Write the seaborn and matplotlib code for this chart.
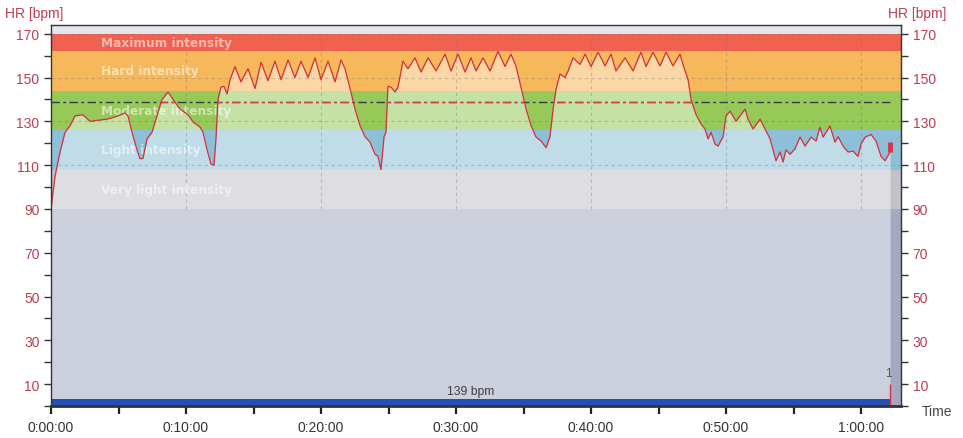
import matplotlib
matplotlib.use("Agg")
import matplotlib.pyplot as plt
import seaborn as sns
import pandas as pd
from matplotlib.ticker import MultipleLocator, FixedLocator, FuncFormatter

# heart rate trace (elapsed minutes, bpm)
minutes = [
    0.00, 0.30, 0.67, 1.04, 1.41, 1.78, 2.37, 2.89, 3.63, 4.15, 4.74, 5.48, 5.70,
    6.00, 6.37, 6.59, 6.81, 7.11, 7.48, 7.85, 8.22, 8.67, 9.04, 9.56, 10.15, 10.52,
    11.04, 11.26, 11.56, 11.85, 12.07, 12.22, 12.37, 12.59, 12.81, 13.04, 13.26,
    13.63, 14.07, 14.59, 15.11, 15.56, 16.07, 16.59, 17.04, 17.56, 18.07, 18.52,
    19.04, 19.56, 20.00, 20.52, 21.04, 21.48, 21.78, 22.15, 22.52, 22.89, 23.26,
    23.63, 24.00, 24.22, 24.44, 24.67, 24.81, 24.96, 25.19, 25.48, 25.70, 26.07,
    26.44, 26.96, 27.41, 27.93, 28.52, 29.19, 29.63, 30.15, 30.67, 31.11, 31.48,
    32.00, 32.52, 33.11, 33.63, 34.07, 34.44, 34.81, 35.19, 35.56, 35.93, 36.30,
    36.67, 36.96, 37.19, 37.41, 37.70, 38.07, 38.30, 38.67, 39.19, 39.56, 40.00,
    40.52, 41.04, 41.48, 41.85, 42.52, 43.11, 43.70, 44.07, 44.59, 45.11, 45.56,
    46.07, 46.59, 46.81, 47.19, 47.41, 47.78, 48.15, 48.44, 48.67, 48.89, 49.19,
    49.41, 49.78, 50.00, 50.30, 50.74, 51.41, 51.63, 52.00, 52.52, 52.89, 53.26,
    53.70, 54.00, 54.22, 54.44, 54.74, 55.11, 55.48, 55.85, 56.30, 56.67, 56.96,
    57.19, 57.70, 58.07, 58.30, 58.67, 59.04, 59.41, 59.78, 60.00, 60.30, 60.74,
    61.11, 61.48, 61.78, 62.15,
]
hr = [
    90, 105, 116, 125, 128, 132.5, 133, 130, 130.6, 131, 132, 133.8, 132.5,
    125, 117, 113, 113, 122, 125, 132.5, 140, 143.4, 140, 135.6, 133, 129.7,
    127.4, 125, 117, 110.5, 110, 122, 140, 145.6, 146, 142.5, 149,
    155, 148, 154, 145, 157, 148.6, 157.5, 149, 158, 150, 157.5,
    150, 159, 149, 157.5, 148, 158, 154, 145, 135.6, 128, 123,
    120.5, 115, 114, 108, 123, 125, 146, 145.6, 143.4, 145.6, 157.5,
    154, 159, 152.5, 159, 153, 160.7, 153, 160.7, 152.5, 159, 153,
    159, 153, 162, 155, 160.7, 155.3, 145.6, 135.6, 128, 122.8, 121,
    118, 123, 135.6, 144.7, 151.6, 150, 153, 159, 156, 160.7, 155,
    161.6, 155.3, 160.7, 153, 159, 153, 161.6, 155, 161.6, 155.3, 161.6,
    155.3, 160.7, 156, 149, 140, 133, 128.8, 126.5, 122, 125, 119.6,
    118.7, 123, 132.4, 134.7, 130, 135.6, 131, 126.5, 131, 126.5, 122,
    112, 116, 111.4, 117, 115, 117.4, 122.8, 118.7, 122.8, 121, 127.4,
    122.8, 127.9, 120.5, 123, 118.7, 116, 116.4, 114, 119.6, 122.8, 124,
    121, 114, 112, 116,
]

zone_names = ["Very light intensity", "Light intensity", "Moderate intensity",
              "Hard intensity", "Maximum intensity"]
zone_low = [90, 108, 126, 144, 162]
zone_high = [108, 126, 144, 162, 170]
zone_colors = ["#c3c2ca", "#8dc0d6", "#96c958", "#f6b85a", "#f06250"]
base_color = "#a3a9c0"

avg_hr = 139
last_marker = [116, 120.5]
lap_label = "1"
x_grid = [10, 20, 30, 40, 50, 60]
y_grid = [110, 130, 150, 170]

sns.set_style("white")
plt.rcParams["font.family"] = ["Liberation Sans", "DejaVu Sans"]

df = pd.DataFrame({"Minutes": minutes, "HR": hr})
t_end = df["Minutes"].iloc[-1]

fig = plt.figure(figsize=(9.63, 4.39), dpi=100)
ax = fig.add_axes([51 / 963, 32 / 439, 850 / 963, 381 / 439])
ax.set_facecolor("#e3e6ef")
ax.set_xlim(0, 62.96)
ax.set_ylim(0, 174)

# zone bands (full colour), then a white veil under the curve
ax.axhspan(0, 90, color=base_color, lw=0, zorder=0.5)
for lo, hi, c in zip(zone_low, zone_high, zone_colors):
    ax.axhspan(lo, hi, color=c, lw=0, zorder=0.5)
fb = ax.fill_between(df["Minutes"], 0, df["HR"], color="white", alpha=0.45,
                     lw=0, zorder=1)

# grid only over the zone area
ax.vlines(x_grid, 90, 170, colors="#70707e", alpha=0.35, lw=0.8,
          linestyles=(0, (3, 3)), zorder=1.5)
ax.hlines(y_grid, 0, 62.96, colors="#70707e", alpha=0.35, lw=0.8,
          linestyles=(0, (3, 3)), zorder=1.5)

for name, lo, hi in zip(zone_names, zone_low, zone_high):
    ax.text(3.7, (lo + hi) / 2, name, family="DejaVu Sans", weight="bold",
            fontsize=8.7, color="white", alpha=0.55, va="center", ha="left",
            zorder=1.8)

# average line: dark over the bands, red inside the veil
dash = (0, (6, 2.5, 2, 2.5))
ax.hlines(avg_hr, 0, t_end, colors="#3a3a46", linestyles=dash, lw=1, zorder=1.6)
red = ax.hlines(avg_hr, 0, t_end, colors="#d8404c", linestyles=dash, lw=1,
                zorder=1.7)
red.set_clip_path(fb.get_paths()[0], ax.transData)

sns.lineplot(data=df, x="Minutes", y="HR", ax=ax, color="#d2303f", lw=0.9,
             zorder=2.2)
ax.plot([t_end, t_end], last_marker, color="#d8344a", lw=3.5,
        solid_capstyle="butt", zorder=2.3)

# average bar along the bottom
ax.fill_between([0, t_end], 0, 3.3, color="#2251b5", lw=0, zorder=2)
ax.text(t_end / 2, 6.8, f"{avg_hr} bpm", ha="center", va="center",
        fontsize=8.7, color="#404040", zorder=3)

# lap marker
ax.vlines(t_end, 0, 10, colors="#e03040", lw=1, zorder=2.4)
ax.text(t_end - 0.1, 15, lap_label, ha="center", va="center", fontsize=8.5,
        color="#555555", zorder=3)

ax.set_xlabel("")
ax.set_ylabel("")
ax.xaxis.set_major_locator(MultipleLocator(10))
ax.xaxis.set_minor_locator(MultipleLocator(5))
ax.xaxis.set_major_formatter(
    FuncFormatter(lambda v, p: f"{int(v // 60)}:{int(v % 60):02d}:00"))
ax.yaxis.set_major_locator(FixedLocator(list(range(10, 171, 20))))
ax.yaxis.set_minor_locator(FixedLocator(list(range(0, 171, 20))))

ax.tick_params(axis="y", which="both", direction="out", length=5, width=1,
               color="#333333", left=True, right=True, labelleft=True,
               labelright=True, labelcolor="#be3c50", labelsize=10, pad=3.3)
ax.tick_params(axis="x", which="both", direction="out", length=6, width=1.6,
               color="#222222", bottom=True, labelcolor="#333333",
               labelsize=10, pad=4)

for side, sp in ax.spines.items():
    sp.set_visible(True)
    sp.set_color("#333333")
    sp.set_linewidth(1)
ax.spines["bottom"].set_linewidth(2)

fig.text(5 / 963, 1 - 14 / 439, "HR [bpm]", ha="left", va="center",
         color="#be3c50", fontsize=10)
fig.text(946 / 963, 1 - 14 / 439, "HR [bpm]", ha="right", va="center",
         color="#be3c50", fontsize=10)
fig.text(952 / 963, 1 - 412 / 439, "Time", ha="right", va="center",
         color="#444444", fontsize=10)

fig.savefig("out.png", dpi=100)
